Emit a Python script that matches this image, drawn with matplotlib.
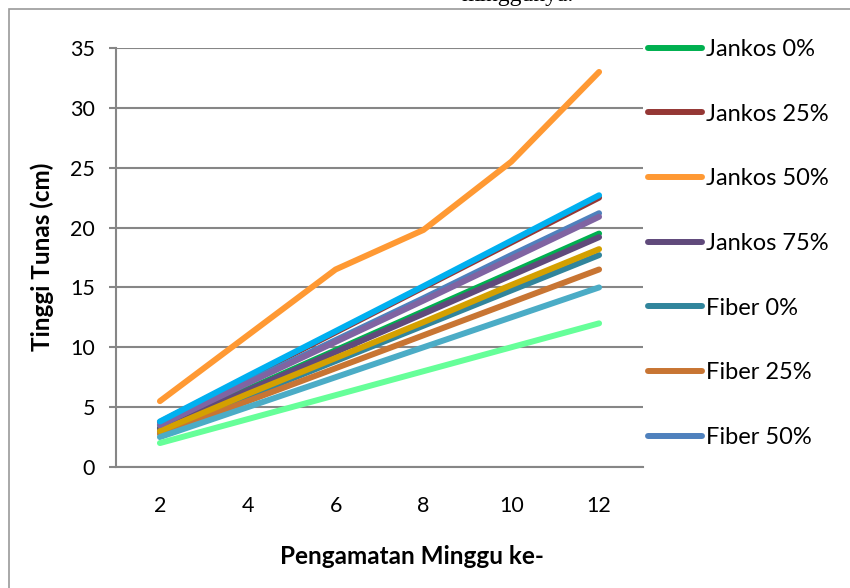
import matplotlib
matplotlib.use("Agg")
from matplotlib import pyplot as plt
from matplotlib.patches import Rectangle

plt.rcParams['font.family'] = ['Lato', 'DejaVu Sans']

# weekly shoot height per treatment
weeks = [2, 4, 6, 8, 10, 12]

jankos_0 = [3.25, 6.5, 9.75, 13.0, 16.25, 19.5]
jankos_25 = [3.75, 7.5, 11.25, 15.0, 18.75, 22.5]
jankos_50 = [5.5, 11.0, 16.5, 19.8, 25.5, 33.0]
jankos_75 = [3.2, 6.4, 9.6, 12.8, 16.0, 19.2]
fiber_0 = [2.95, 5.9, 8.85, 11.8, 14.75, 17.7]
fiber_25 = [2.75, 5.5, 8.25, 11.0, 13.75, 16.5]
fiber_50 = [3.5, 7.1, 10.6, 14.1, 17.7, 21.2]
fiber_75 = [3.0, 6.1, 9.1, 12.1, 15.2, 18.2]
campuran_a = [3.5, 7.0, 10.45, 13.9, 17.4, 20.9]
campuran_b = [2.5, 5.0, 7.5, 10.0, 12.5, 15.0]
campuran_c = [2.0, 4.0, 6.0, 8.0, 10.0, 12.0]
campuran_d = [3.8, 7.6, 11.35, 15.1, 18.9, 22.7]

series = [
    ("Jankos 0%", jankos_0, "#00B050"),
    ("Jankos 25%", jankos_25, "#953735"),
    ("Jankos 50%", jankos_50, "#FF9933"),
    ("Jankos 75%", jankos_75, "#604A7B"),
    ("Fiber 0%", fiber_0, "#31859C"),
    ("Fiber 25%", fiber_25, "#C87533"),
    ("Fiber 50%", fiber_50, "#4F81BD"),
    ("Fiber 75%", fiber_75, "#D4A000"),
    ("Campuran A", campuran_a, "#8064A2"),
    ("Campuran B", campuran_b, "#4BACC6"),
    ("Campuran C", campuran_c, "#66FF99"),
    ("Campuran D", campuran_d, "#00B0F0"),
]

grey = "#868686"

fig = plt.figure(figsize=(8.5, 5.88), dpi=100)
ax = fig.add_axes([116 / 850, 1 - 467 / 588, 527 / 850, 419 / 588])

handles = []
for name, vals, col in series:
    ln, = ax.plot(weeks, vals, color=col, lw=4.3, solid_capstyle='round',
                  solid_joinstyle='round', label=name)
    handles.append(ln)

ax.set_xlim(1, 13)
ax.set_ylim(0, 35)
ax.set_yticks(range(0, 36, 5))
ax.set_xticks(weeks)
ax.yaxis.grid(True, color=grey, lw=1.5)
ax.set_axisbelow(True)
for s in ["top", "right"]:
    ax.spines[s].set_visible(False)
for s in ["left", "bottom"]:
    ax.spines[s].set_color(grey)
    ax.spines[s].set_linewidth(1.5)
ax.tick_params(axis='y', length=5, width=1.5, color=grey, labelsize=15.5, pad=10)
ax.tick_params(axis='x', length=0, labelsize=15.5, pad=21)

fig.text(42 / 850, 1 - 257 / 588, "Tinggi Tunas (cm)", rotation=90, ha='center',
         va='center', fontsize=17.5, fontweight='bold')
fig.text(412 / 850, 1 - 557 / 588, "Pengamatan Minggu ke-", ha='center',
         va='center', fontsize=17.5, fontweight='bold')

# only the first seven entries fit inside the chart frame
fig.legend(handles=handles[:7], loc='upper left', bbox_to_anchor=(648 / 850, 1 - 39 / 588),
           frameon=False, fontsize=17, handlelength=2.3, handletextpad=0.15,
           labelspacing=1.85, borderaxespad=0, borderpad=0)

# chart border and caption line of the surrounding page
fig.patches.append(Rectangle((9 / 850, -0.1), 1.2, 1 - 9 / 588 + 0.1,
                             transform=fig.transFigure, fill=False,
                             edgecolor="#9A9A9A", lw=1.2))
fig.text(518 / 850, 1 - 1 / 588, "minggunya.", ha='center', va='baseline',
         fontsize=17, family='Liberation Serif')

fig.savefig("out.png", dpi=100)
